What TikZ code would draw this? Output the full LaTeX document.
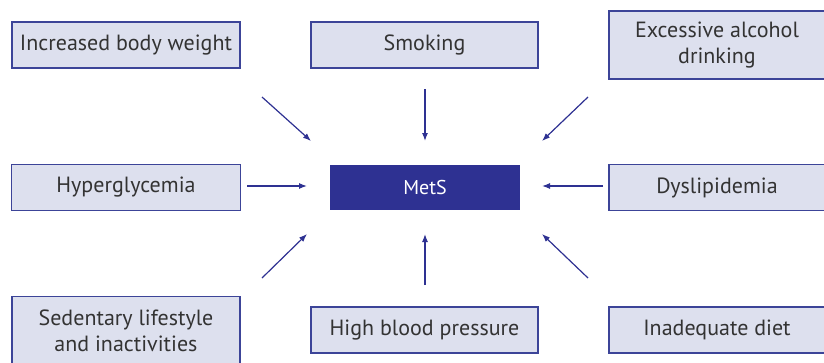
\documentclass[tikz,border=0pt]{standalone}
\usepackage{fontspec}
\setmainfont{PT Sans}
\usetikzlibrary{arrows.meta}
\definecolor{boxfill}{HTML}{DDE0EE}
\definecolor{boxline}{HTML}{3C4498}
\definecolor{metsblue}{HTML}{2E3192}
\definecolor{txtgray}{HTML}{333333}
\tikzset{
  factor/.style={draw=boxline, line width=1.3pt, fill=boxfill, text=txtgray,
    minimum height=46pt, align=center, inner sep=0pt,
    font=\fontsize{22}{26.5}\selectfont},
  centre/.style={fill=metsblue, text=white, minimum width=190pt,
    minimum height=45pt, inner sep=0pt, font=\fontsize{20}{24}\selectfont},
  arr/.style={draw=metsblue, line width=1.2pt, -{Latex[length=8pt,width=6pt]}}
}
\begin{document}
\begin{tikzpicture}[x=1pt,y=-1pt]
    \useasboundingbox (0,0) rectangle (824,362);

    % Centro
    \node[centre] (mets) at (425,187.5) {MetS};

    % Factores de arriba
    \node[factor, minimum width=228pt] (weight) at (126,45) {Increased body weight};
    \node[factor, minimum width=227pt] (smoke) at (424.5,45) {Smoking};
    \node[factor, minimum width=216pt, minimum height=68pt] (alcohol) at (717,45) {Excessive alcohol\\drinking};

    % Factores del medio
    \node[factor, minimum width=229pt] (glyc) at (126,187.5) {Hyperglycemia};
    \node[factor, minimum width=216pt] (lipid) at (717,187.5) {Dyslipidemia};

    % Factores de abajo
    \node[factor, minimum width=228pt, minimum height=68pt, anchor=north] (sedent) at (126,296) {Sedentary lifestyle\\and inactivities};
    \node[factor, minimum width=227pt] (pressure) at (424.5,330) {High blood pressure};
    \node[factor, minimum width=216pt] (diet) at (717,330) {Inadequate diet};

    % Extremos de las flechas
    \coordinate (w0) at (262,97);   \coordinate (w1) at (311,141);
    \coordinate (s0) at (425,89);   \coordinate (s1) at (425,141);
    \coordinate (a0) at (588,97);   \coordinate (a1) at (542,141);
    \coordinate (g0) at (247,186);  \coordinate (g1) at (307,186);
    \coordinate (l0) at (603,186);  \coordinate (l1) at (542,186);
    \coordinate (d0) at (262,278);  \coordinate (d1) at (307,234);
    \coordinate (p0) at (425,285);  \coordinate (p1) at (425,234);
    \coordinate (i0) at (588,278);  \coordinate (i1) at (542,234);

    % Flechas
    \foreach \a/\b in {w0/w1,s0/s1,a0/a1,g0/g1,l0/l1,d0/d1,p0/p1,i0/i1}
      \draw[arr] (\a) -- (\b);
\end{tikzpicture}
\end{document}
